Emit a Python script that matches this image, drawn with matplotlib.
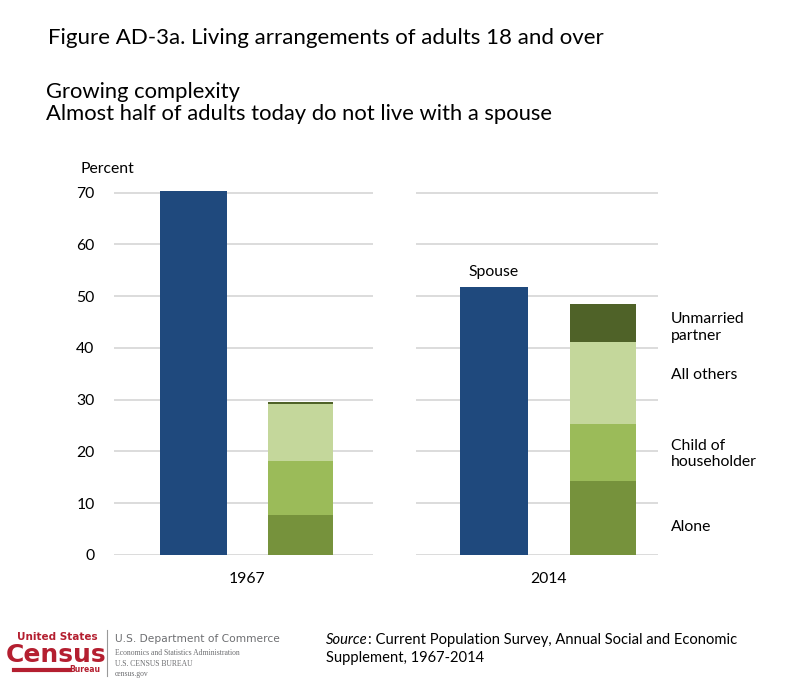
import matplotlib
matplotlib.use('Agg')
import matplotlib.pyplot as plt
import numpy as np

plt.rcParams['font.family'] = ['Lato', 'DejaVu Sans']

years = ["1967", "2014"]
spouse = [70.3, 51.7]
# stacked "not with spouse" pieces, bottom to top
categories = ["Alone", "Child of\nhouseholder", "All others", "Unmarried\npartner"]
alone = [7.7, 14.3]
child = [10.5, 11.0]
others = [11.0, 15.8]
unmarried = [0.4, 7.3]
label_y = [5.4, 19.5, 34.7, 44.0]
yticks = [0, 10, 20, 30, 40, 50, 60, 70]

spouse_color = "#1f497d"
stack_colors = ["#76923c", "#9bbb59", "#c4d79b", "#4f6228"]
grid_color = "#d9d9d9"

fig = plt.figure(figsize=(8, 6.83), dpi=100)
W, H = 800, 683


def px_axes(x0, x1, y_top, y_bot):
    return fig.add_axes([x0 / W, 1 - y_bot / H, (x1 - x0) / W, (y_bot - y_top) / H])


# y=0 at 555 px, y=70 at 192.5 px
top = 71
ytop_px = 555 - top * (555 - 192.5) / 70
ax1 = px_axes(114, 373, ytop_px, 555)
ax2 = px_axes(416, 658, ytop_px, 555)

fs = 11.3
stacks = [alone, child, others, unmarried]
for i, (ax, xl) in enumerate([(ax1, (-0.743, 1.678)), (ax2, (-0.716, 1.505))]):
    for t in yticks:
        ax.axhline(t, color=grid_color, lw=1.3, zorder=0)
    ax.bar(0, spouse[i], width=0.62, color=spouse_color, zorder=2)
    bottom = 0
    for vals, col in zip(stacks, stack_colors):
        ax.bar(1, vals[i], width=0.6, bottom=bottom, color=col, zorder=2)
        bottom += vals[i]
    ax.set_xlim(*xl)
    ax.set_ylim(0, top)
    ax.set_xticks([0.5])
    ax.set_xticklabels([years[i]], fontsize=fs)
    ax.tick_params(axis='x', length=0, pad=12)
    for s in ax.spines.values():
        s.set_visible(False)

ax1.set_yticks(yticks)
ax1.set_yticklabels([str(t) for t in yticks], fontsize=fs)
ax1.tick_params(axis='y', length=0, pad=14)
ax2.set_yticks([])

ax1.text(-0.13, 1.03, "Percent", transform=ax1.transAxes, fontsize=fs,
         ha='left', va='bottom')
ax2.text(0, spouse[1] + 1.6, "Spouse", ha='center', va='bottom', fontsize=fs)
for name, y in zip(categories, label_y):
    ax2.text(xl[1] + 0.12, y, name, ha='left', va='center', fontsize=fs,
             linespacing=1.25, clip_on=False)

fig.text(48 / W, 1 - 38 / H, "Figure AD-3a. Living arrangements of adults 18 and over",
         fontsize=16, ha='left', va='center')
fig.text(46 / W, 1 - 92 / H, "Growing complexity", fontsize=15.8, ha='left', va='center')
fig.text(46 / W, 1 - 114 / H, "Almost half of adults today do not live with a spouse",
         fontsize=15.8, ha='left', va='center')

# source note
src = fig.text(326 / W, 1 - 640 / H, "Source", style='italic', fontsize=10.6,
               ha='left', va='center')
plt.annotate(": Current Population Survey, Annual Social and Economic",
             xy=(1, 0.5), xycoords=src, ha='left', va='center', fontsize=10.6,
             annotation_clip=False)
fig.text(326 / W, 1 - 658 / H, "Supplement, 1967-2014", fontsize=10.6, ha='left', va='center')

# census logo
red = "#b41f30"
narrow = ['Liberation Sans Narrow', 'DejaVu Sans']
fig.text(57 / W, 1 - 637 / H, "United States", color=red, fontsize=7.5, fontweight='bold',
         ha='center', va='center', family=narrow)
fig.text(56 / W, 1 - 655 / H, "Census", color=red, fontsize=18, fontweight='bold',
         ha='center', va='center', family=narrow)
fig.add_artist(plt.Line2D([14 / W, 70 / W], [1 - 670 / H, 1 - 670 / H], color=red, lw=3))
fig.text(85 / W, 1 - 670 / H, "Bureau", color=red, fontsize=5.5, fontweight='bold',
         ha='center', va='center', family=narrow)
fig.add_artist(plt.Line2D([107 / W, 107 / W], [1 - 630 / H, 1 - 676 / H], color="#999999", lw=0.8))
gray = "#6d6e71"
fig.text(115 / W, 1 - 639 / H, "U.S. Department of Commerce", color=gray, fontsize=7.7,
         ha='left', va='center', family=narrow)
serif = ['Liberation Serif', 'DejaVu Serif']
fig.text(115 / W, 1 - 653 / H, "Economics and Statistics Administration", color=gray, fontsize=5.5,
         ha='left', va='center', family=serif)
fig.text(115 / W, 1 - 664 / H, "U.S. CENSUS BUREAU", color=gray, fontsize=5.5,
         ha='left', va='center', family=serif)
fig.text(115 / W, 1 - 674 / H, "census.gov", color=gray, fontsize=5.5,
         ha='left', va='center', family=serif)

fig.savefig("out.png", dpi=100)
